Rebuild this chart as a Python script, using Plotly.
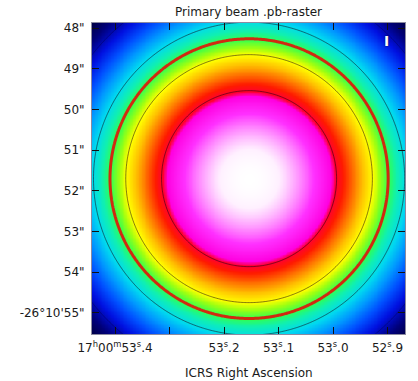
import numpy as np
import plotly.graph_objects as go

# ---- data ----
ra_center_s = 53.154      # RA seconds past 17h00m
dec_center_as = 51.70     # arcsec past -26d10'
beam_fwhm_as = 6.87       # primary beam FWHM, arcsec
dec_deg = -26.18
contour_levels = [0.24, 0.42, 0.58, 0.76]
red_level = 0.5
z_min, z_max = 0.17, 1.0

x_range = [53.4422, 52.8679]
y_range = [55.516, 47.877]
x_tickvals = [53.4, 53.2, 53.1, 53.0, 52.9]
x_ticktext = ["17<sup>h</sup>00<sup>m</sup>53<sup>s</sup>.4",
              "53<sup>s</sup>.2", "53<sup>s</sup>.1", "53<sup>s</sup>.0", "52<sup>s</sup>.9"]
x_minor_tickvals = [53.3]
y_tickvals = [48, 49, 50, 51, 52, 53, 54, 55]
y_ticktext = ['48"', '49"', '50"', '51"', '52"', '53"', '54"', "-26°10'55\""]

cmap_values = [0.17, 0.21, 0.26, 0.31, 0.36, 0.41, 0.46, 0.50, 0.545, 0.58,
               0.63, 0.68, 0.73, 0.765, 0.785, 0.86, 0.925, 0.97, 1.0]
cmap_colors = ["#000040", "#00007a", "#0010e0", "#0050ff", "#0098ff", "#00d8f0",
               "#10f0b0", "#30ff50", "#a0ff10", "#ffff00", "#ffc000", "#ff7000",
               "#ff1a00", "#ff0030", "#ff00e0", "#ff30ff", "#ffa0ff", "#fff0ff", "#ffffff"]

# ---- primary beam image ----
ra = np.linspace(53.45, 52.86, 220)
dec = np.linspace(47.85, 55.55, 220)
RA, DEC = np.meshgrid(ra, dec)
dx = (RA - ra_center_s) * 15.0 * np.cos(np.radians(dec_deg))
dy = DEC - dec_center_as
r2 = dx ** 2 + dy ** 2
z = np.exp(-4 * np.log(2) * r2 / beam_fwhm_as ** 2)

colorscale = [[(v - z_min) / (z_max - z_min), c] for v, c in zip(cmap_values, cmap_colors)]

fig = go.Figure()
fig.add_trace(go.Heatmap(x=ra, y=dec, z=z, zmin=z_min, zmax=z_max, colorscale=colorscale,
                         zsmooth="best", showscale=False, hoverinfo="skip"))
for lvl in contour_levels:
    fig.add_trace(go.Contour(x=ra, y=dec, z=z, showscale=False, hoverinfo="skip",
                             contours=dict(start=lvl, end=lvl, size=1, coloring="none"),
                             line=dict(color="rgba(20,0,20,0.75)" if lvl > 0.3 else "rgba(0,0,40,0.4)",
                                       width=0.7, smoothing=1)))
fig.add_trace(go.Contour(x=ra, y=dec, z=z, showscale=False, hoverinfo="skip",
                         contours=dict(start=red_level, end=red_level, size=1, coloring="none"),
                         line=dict(color="#d02a10", width=3, smoothing=1)))

font = "DejaVu Sans, Arial, sans-serif"
axis_common = dict(showgrid=False, zeroline=False, ticks="inside", ticklen=7, tickwidth=1,
                   tickcolor="#111", showline=True, linecolor="#8a8aa0", linewidth=1,
                   mirror="ticks", tickfont=dict(family=font, size=12, color="#1a1a1a"))

fig.update_layout(
    width=418, height=381,
    showlegend=False,
    margin=dict(l=92, r=13, t=23, b=47),
    paper_bgcolor="white", plot_bgcolor="white",
    xaxis=dict(range=x_range, tickmode="array", tickvals=x_tickvals, ticktext=x_ticktext,
               minor=dict(tickmode="array", tickvals=x_minor_tickvals, ticks="inside",
                          ticklen=7, tickwidth=1, tickcolor="#111", showgrid=False),
               ticklabelstandoff=3, **axis_common),
    yaxis=dict(range=y_range, tickmode="array", tickvals=y_tickvals, ticktext=y_ticktext,
               ticklabelstandoff=4, **axis_common),
    title=dict(text="Primary beam .pb-raster", x=0.5, xref="paper", y=1 - 12 / 381,
               yref="container", xanchor="center", yanchor="middle",
               font=dict(family=font, size=12, color="#1a1a1a")),
    annotations=[
        dict(text="ICRS Right Ascension", xref="paper", yref="paper", x=0.5, y=(334 - 373) / 311,
             xanchor="center", yanchor="middle", showarrow=False,
             font=dict(family=font, size=12, color="#1a1a1a")),
        dict(text="<b>I</b>", xref="paper", yref="paper", x=(386 - 92) / 313, y=(334 - 41) / 311,
             xanchor="center", yanchor="middle", showarrow=False,
             font=dict(family=font, size=14, color="white", shadow="0px 0px 1.5px #000")),
    ],
)

fig.write_html("out.html")
